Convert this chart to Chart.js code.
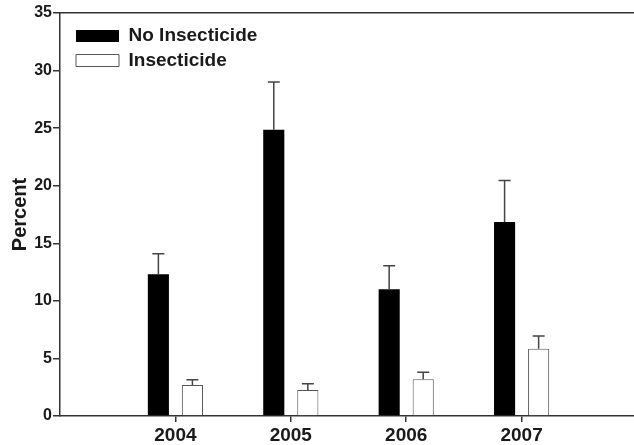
<!DOCTYPE html>
<html>
<head>
<meta charset="utf-8">
<script src="https://cdn.jsdelivr.net/npm/chart.js@4"></script>
<style>
  html, body { margin: 0; padding: 0; background: #fff; overflow: hidden; }
</style>
</head>
<body>
<canvas id="chart" width="640" height="445"></canvas>
<script>
const years = ['2004', '2005', '2006', '2007'];
const noInsecticide = [12.3, 24.85, 11.0, 16.85];
const noInsecticideErr = [1.8, 4.15, 2.05, 3.6];
const insecticide = [2.7, 2.25, 3.2, 5.85];
const insecticideErr = [0.45, 0.55, 0.6, 1.1];
const yTicks = [0, 5, 10, 15, 20, 25, 30, 35];

// empty slot on each side so the years sit at 1..4 of a 0..5 axis
const labels = ['', ...years, ''];
const pad = arr => [null, ...arr, null];

const textColor = '#1a1a1a';
const axisColor = '#333';

const errorBars = {
  id: 'errorBars',
  afterDatasetsDraw(chart) {
    const ctx = chart.ctx;
    const y = chart.scales.y;
    ctx.save();
    ctx.strokeStyle = '#444';
    ctx.lineWidth = 1.5;
    chart.data.datasets.forEach((ds, d) => {
      const meta = chart.getDatasetMeta(d);
      meta.data.forEach((bar, i) => {
        const v = ds.data[i];
        const e = ds.errors[i];
        if (v == null || e == null) return;
        const top = y.getPixelForValue(v + e);
        ctx.beginPath();
        ctx.moveTo(bar.x, bar.y);
        ctx.lineTo(bar.x, top);
        ctx.moveTo(bar.x - 6, top);
        ctx.lineTo(bar.x + 6, top);
        ctx.stroke();
      });
    });
    ctx.restore();
  }
};

// put the legend inside the plot, top-left
const legendPlace = {
  id: 'legendPlace',
  afterLayout(chart) {
    const lg = chart.legend;
    const a = chart.chartArea;
    const w = lg.width, h = lg.height;
    lg.left = a.left + 10.5;
    lg.top = a.top + 8;
    lg.right = lg.left + w;
    lg.bottom = lg.top + h;
  }
};

new Chart(document.getElementById('chart'), {
  type: 'bar',
  data: {
    labels,
    datasets: [
      {
        label: 'No Insecticide',
        data: pad(noInsecticide),
        errors: pad(noInsecticideErr),
        backgroundColor: '#000',
        borderColor: '#000',
        borderWidth: 0,
      },
      {
        label: 'Insecticide',
        data: pad(insecticide),
        errors: pad(insecticideErr),
        backgroundColor: '#fff',
        borderColor: '#555',
        borderWidth: 1,
      },
    ],
  },
  options: {
    responsive: false,
    animation: false,
    categoryPercentage: 0.59,
    barPercentage: 0.62,
    layout: { padding: { right: 3 } },
    plugins: {
      tooltip: { enabled: false },
      legend: {
        position: 'chartArea',
        align: 'start',
        labels: {
          boxWidth: 43,
          boxHeight: 12,
          padding: 5.5,
          color: textColor,
          font: { family: 'Liberation Sans', size: 19, weight: 'bold' },
        },
      },
    },
    scales: {
      x: {
        type: 'category',
        offset: false,
        grid: {
          offset: false,
          drawOnChartArea: false,
          tickLength: 6,
          lineWidth: 1.5,
          color: c => (c.tick && c.tick.label ? axisColor : 'rgba(0,0,0,0)'),
        },
        border: { display: true, color: axisColor, width: 1.5 },
        ticks: {
          autoSkip: false,
          maxRotation: 0,
          padding: 2,
          color: textColor,
          font: { family: 'Liberation Sans', size: 19, weight: 'bold' },
        },
        afterFit: s => { s.height = 29; },
      },
      x2: {
        type: 'category',
        position: 'top',
        offset: false,
        grid: { display: false },
        ticks: { display: false },
        border: { display: true, color: axisColor, width: 1.5 },
        afterFit: s => { s.height = 13; },
      },
      y: {
        min: 0,
        max: 35,
        afterBuildTicks: s => { s.ticks = yTicks.map(v => ({ value: v })); },
        grid: {
          drawOnChartArea: false,
          tickLength: 7,
          lineWidth: 1.5,
          color: axisColor,
        },
        border: { display: true, color: axisColor, width: 1.5 },
        ticks: {
          padding: 1,
          color: textColor,
          font: { family: 'Liberation Sans', size: 16, weight: 'bold' },
        },
        title: {
          display: true,
          text: 'Percent',
          color: textColor,
          padding: { top: 8, bottom: 0 },
          font: { family: 'Liberation Sans', size: 20, weight: 'bold' },
        },
        afterFit: s => { s.width = 60; },
      },
    },
  },
  plugins: [errorBars, legendPlace],
});
</script>
</body>
</html>
